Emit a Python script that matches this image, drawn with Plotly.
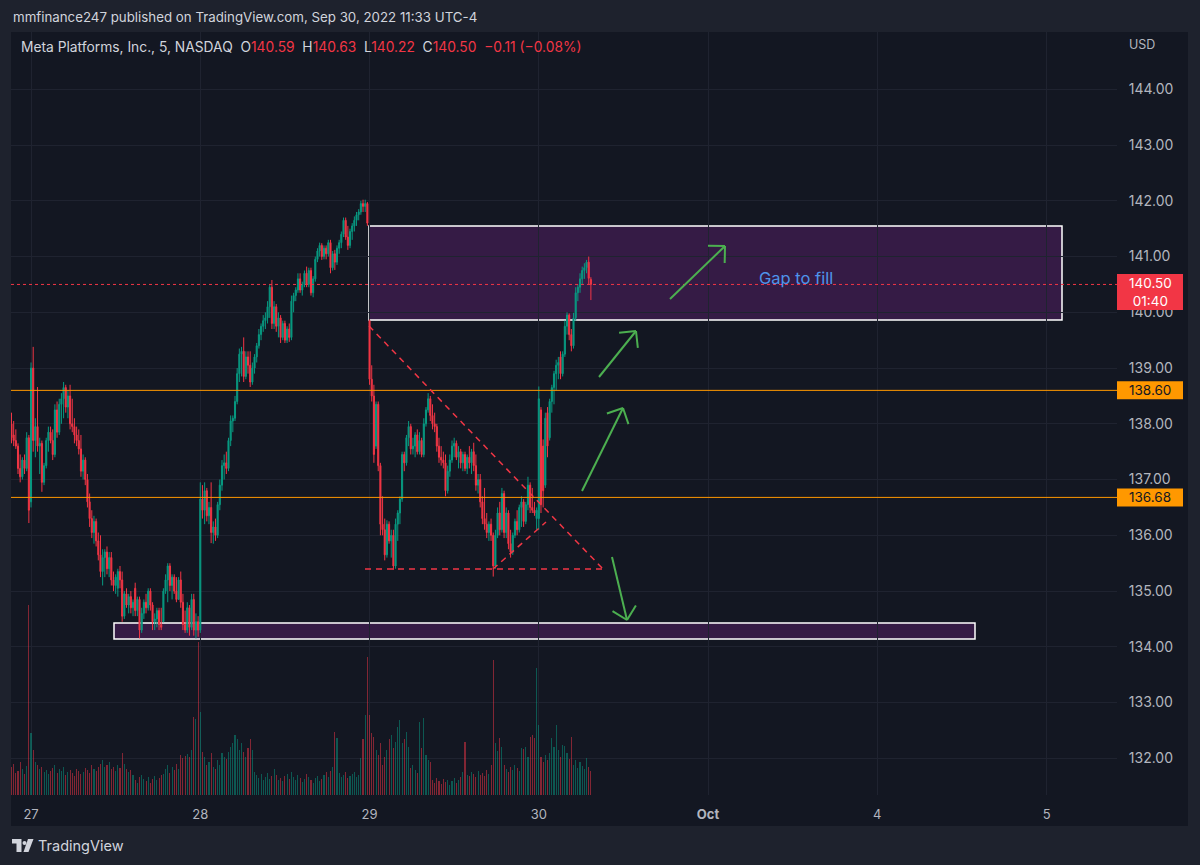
import math
import plotly.graph_objects as go

# ---------------- data ----------------
day_tick_idx = [9, 87, 165, 243, 321, 399, 477]
day_tick_text = ["27", "28", "29", "30", "<b>Oct</b>", "4", "5"]
price_ticks = [132, 133, 134, 135, 136, 137, 138, 139, 140, 141, 142, 143, 144]

opens = [
    138.0, 137.8, 137.7, 137.6, 137.2, 137.05, 137.35, 137.2, 137.75, 136.6,
    139.0, 137.7, 137.95, 137.6, 137.65, 136.95, 137.25, 137.7, 137.85, 137.7,
    137.45, 138.25, 137.85, 138.35, 138.45, 138.65, 138.3, 138.5, 138.0, 137.95,
    137.8, 137.7, 137.55, 137.15, 137.35, 137.0, 136.6, 136.3, 136.05, 136.25,
    135.9, 135.65, 135.35, 135.6, 135.7, 135.4, 135.6, 135.2, 135.1, 135.05,
    135.35, 135.2, 134.55, 134.95, 134.75, 134.9, 134.7, 135.05, 134.65, 134.85,
    134.3, 134.6, 134.8, 134.7, 135.0, 134.75, 134.45, 134.5, 134.65, 134.4,
    134.45, 135.0, 135.2, 135.45, 135.1, 135.25, 135.0, 134.85, 135.2, 134.8,
    134.4, 134.3, 134.7, 134.35, 134.85, 134.3, 134.45, 134.3, 136.65, 136.45,
    136.8, 136.35, 136.5, 136.05, 136.15, 136.0, 136.55, 136.9, 137.25, 137.3,
    137.2, 137.7, 138.05, 138.1, 138.4, 138.9, 139.25, 139.3, 138.85, 139.2,
    139.05, 138.75, 139.0, 139.2, 139.4, 139.6, 139.75, 139.85, 139.9, 140.1,
    140.45, 139.8, 140.1, 139.75, 139.9, 139.55, 139.8, 139.5, 139.7, 139.55,
    140.2, 140.3, 140.4, 140.6, 140.4, 140.5, 140.7, 140.5, 140.75, 140.35,
    140.6, 140.95, 141.1, 141.2, 141.0, 141.15, 141.05, 141.25, 140.8, 141.05,
    140.9, 141.15, 141.25, 141.4, 141.65, 141.35, 141.2, 141.45, 141.55, 141.65,
    141.75, 141.8, 141.95, 141.9, 141.95, 139.85, 138.8, 138.5, 137.6, 138.35,
    137.25, 136.2, 136.1, 135.65, 136.2, 135.9, 136.0, 135.45, 136.2, 136.4,
    136.65, 137.45, 137.3, 137.75, 137.95, 137.55, 137.6, 137.8, 137.5, 137.7,
    137.45, 138.0, 138.25, 138.45, 138.15, 138.0, 137.95, 137.6, 137.4, 137.35,
    137.3, 136.8, 137.15, 137.35, 137.6, 137.65, 137.4, 137.5, 137.3, 137.45,
    137.2, 137.4, 137.3, 137.5, 137.25, 136.9, 137.0, 136.6, 136.3, 136.2,
    136.05, 136.2, 136.0, 135.45, 136.0, 136.4, 136.1, 136.75, 136.05, 136.4,
    135.85, 135.7, 136.0, 136.25, 136.1, 136.5, 136.6, 136.25, 136.55, 136.9,
    136.5, 136.45, 136.3, 136.3, 138.25, 137.6, 136.9, 138.2, 137.75, 138.4,
    138.65, 138.9, 139.05, 139.2, 138.9, 139.25, 139.75, 139.95, 139.6, 139.4,
    139.9, 140.35, 140.45, 140.6, 140.75, 140.8, 140.9, 140.59,
]
highs = [
    138.2, 138.05, 137.9, 137.65, 137.45, 137.4, 137.45, 137.85, 137.8, 139.1,
    139.38, 138.1, 138.66, 137.75, 137.7, 137.3, 137.75, 137.95, 137.95, 137.9,
    138.35, 138.4, 138.45, 138.55, 138.75, 138.7, 138.6, 138.7, 138.45, 138.1,
    137.95, 137.9, 137.8, 137.45, 137.4, 137.1, 136.75, 136.45, 136.35, 136.3,
    136.05, 136.0, 135.75, 135.75, 135.8, 135.7, 135.7, 135.35, 135.3, 135.4,
    135.45, 135.35, 135.0, 135.05, 134.95, 135.0, 134.85, 135.15, 134.9, 134.9,
    134.7, 134.85, 134.95, 135.05, 135.05, 134.8, 134.6, 134.7, 134.7, 134.7,
    135.05, 135.3, 135.5, 135.5, 135.3, 135.3, 135.25, 135.25, 135.35, 134.95,
    134.65, 134.8, 134.75, 134.95, 134.95, 134.6, 134.55, 136.95, 136.9, 136.95,
    136.85, 136.6, 136.95, 136.25, 136.3, 136.6, 137.0, 137.35, 137.45, 137.5,
    137.75, 138.15, 138.15, 138.5, 139.0, 139.35, 139.38, 139.55, 139.3, 139.3,
    139.3, 139.1, 139.25, 139.45, 139.7, 139.8, 139.95, 140.0, 140.2, 140.5,
    140.58, 140.2, 140.15, 140.0, 139.95, 139.85, 139.85, 139.75, 139.8, 140.3,
    140.35, 140.45, 140.7, 140.7, 140.55, 140.75, 140.82, 140.8, 140.8, 140.65,
    141.0, 141.15, 141.25, 141.24, 141.2, 141.2, 141.3, 141.3, 141.1, 141.12,
    141.2, 141.3, 141.45, 141.7, 141.7, 141.55, 141.5, 141.6, 141.72, 141.8,
    141.85, 142.0, 142.02, 142.02, 141.98, 139.87, 139.05, 138.7, 138.4, 138.4,
    137.3, 136.7, 136.3, 136.27, 136.25, 136.1, 136.1, 136.3, 136.45, 136.7,
    137.5, 137.5, 137.8, 138.05, 138.0, 137.75, 137.85, 137.9, 137.85, 137.75,
    138.1, 138.3, 138.55, 138.5, 138.35, 138.2, 138.0, 137.75, 137.6, 137.5,
    137.45, 137.25, 137.45, 137.7, 137.75, 137.7, 137.6, 137.55, 137.5, 137.5,
    137.45, 137.6, 137.55, 137.66, 137.45, 137.1, 137.1, 136.7, 136.85, 136.4,
    136.25, 136.3, 136.05, 136.1, 136.5, 136.6, 136.85, 136.8, 136.5, 136.45,
    136.1, 136.05, 136.3, 136.45, 136.55, 136.7, 136.65, 136.6, 137.05, 136.95,
    136.85, 136.6, 136.5, 138.67, 138.3, 137.72, 138.2, 138.3, 138.45, 138.7,
    138.95, 139.15, 139.2, 139.3, 139.3, 139.85, 140.0, 139.98, 139.7, 139.99,
    140.45, 140.5, 140.7, 140.82, 140.88, 140.94, 141.0, 140.63,
]
lows = [
    137.65, 137.6, 137.55, 137.1, 136.95, 137.0, 137.1, 137.15, 136.22, 136.5,
    137.5, 137.4, 137.5, 137.1, 136.78, 136.9, 137.2, 137.5, 137.65, 137.35,
    137.4, 137.75, 137.8, 138.0, 138.1, 138.2, 138.1, 137.9, 137.85, 137.65,
    137.6, 137.45, 137.05, 137.0, 136.9, 136.5, 136.15, 135.95, 135.85, 135.8,
    135.55, 135.25, 135.1, 135.25, 135.3, 135.25, 135.1, 135.0, 134.95, 134.9,
    135.05, 134.45, 134.5, 134.7, 134.6, 134.6, 134.55, 134.55, 134.55, 134.15,
    134.25, 134.5, 134.6, 134.65, 134.65, 134.3, 134.3, 134.35, 134.3, 134.3,
    134.45, 134.95, 134.8, 135.0, 134.85, 134.95, 134.8, 134.85, 134.7, 134.3,
    134.25, 134.25, 134.2, 134.3, 134.2, 134.15, 134.18, 134.25, 136.3, 136.2,
    136.25, 136.2, 135.86, 135.85, 135.9, 135.95, 136.45, 136.8, 137.0, 137.1,
    137.15, 137.6, 137.85, 138.05, 138.35, 138.75, 138.85, 138.75, 138.8, 138.9,
    138.66, 138.7, 138.9, 139.1, 139.35, 139.5, 139.65, 139.7, 139.8, 139.9,
    139.7, 139.7, 139.65, 139.55, 139.45, 139.5, 139.45, 139.45, 139.47, 139.5,
    140.0, 140.2, 140.35, 140.35, 140.3, 140.45, 140.45, 140.45, 140.3, 140.27,
    140.55, 140.9, 141.0, 140.94, 140.95, 140.95, 141.0, 140.7, 140.75, 140.76,
    140.85, 141.05, 141.15, 141.35, 141.3, 141.12, 141.15, 141.3, 141.45, 141.55,
    141.65, 141.75, 141.8, 141.8, 141.55, 138.7, 138.4, 137.3, 137.55, 137.15,
    136.0, 136.0, 135.55, 135.6, 135.85, 135.6, 135.38, 135.4, 135.9, 136.2,
    136.6, 137.15, 137.25, 137.6, 137.45, 137.45, 137.4, 137.45, 137.45, 137.4,
    137.4, 137.95, 138.2, 138.05, 137.9, 137.85, 137.5, 137.3, 137.25, 137.2,
    136.7, 136.75, 137.05, 137.3, 137.4, 137.35, 137.2, 137.2, 137.15, 137.15,
    137.1, 137.2, 137.1, 137.15, 136.8, 136.75, 136.5, 136.2, 136.1, 135.95,
    135.9, 135.9, 135.26, 135.4, 135.95, 136.0, 136.05, 135.95, 135.95, 135.75,
    135.6, 135.65, 135.95, 136.0, 136.05, 136.15, 136.15, 136.2, 136.45, 136.4,
    136.4, 136.35, 136.1, 136.1, 136.4, 136.5, 136.85, 137.4, 137.7, 138.2,
    138.35, 138.6, 138.8, 138.8, 138.85, 139.2, 139.6, 139.5, 139.3, 139.35,
    139.85, 140.2, 140.35, 140.5, 140.6, 140.7, 140.5, 140.22,
]
closes = [
    137.75, 137.7, 137.6, 137.2, 137.05, 137.35, 137.2, 137.75, 136.45, 139.0,
    137.7, 137.95, 137.6, 137.65, 136.95, 137.25, 137.7, 137.85, 137.7, 137.45,
    138.25, 137.85, 138.35, 138.45, 138.65, 138.3, 138.5, 138.0, 137.95, 137.8,
    137.7, 137.55, 137.15, 137.35, 137.0, 136.6, 136.3, 136.05, 136.25, 135.9,
    135.65, 135.35, 135.6, 135.7, 135.4, 135.6, 135.2, 135.1, 135.25, 135.35,
    135.2, 134.55, 134.95, 134.75, 134.9, 134.7, 134.8, 134.65, 134.85, 134.3,
    134.6, 134.8, 134.7, 135.0, 134.75, 134.45, 134.5, 134.65, 134.4, 134.35,
    135.0, 135.2, 135.45, 135.1, 135.25, 135.0, 134.85, 135.2, 134.8, 134.4,
    134.3, 134.7, 134.35, 134.85, 134.3, 134.45, 134.3, 136.65, 136.45, 136.8,
    136.35, 136.5, 136.05, 136.15, 136.0, 136.55, 136.9, 137.25, 137.3, 137.2,
    137.7, 138.05, 138.1, 138.4, 138.9, 139.25, 139.3, 138.85, 139.2, 139.05,
    138.75, 139.0, 139.2, 139.4, 139.6, 139.75, 139.85, 139.9, 140.1, 140.45,
    139.8, 140.1, 139.75, 139.9, 139.55, 139.8, 139.5, 139.7, 139.55, 140.2,
    140.3, 140.4, 140.6, 140.4, 140.5, 140.7, 140.5, 140.75, 140.35, 140.6,
    140.95, 141.1, 141.2, 141.0, 141.15, 141.05, 141.25, 140.8, 141.05, 140.9,
    141.15, 141.25, 141.4, 141.65, 141.35, 141.2, 141.45, 141.55, 141.65, 141.75,
    141.8, 141.95, 141.9, 141.95, 141.6, 138.8, 138.5, 137.45, 138.35, 137.25,
    136.2, 136.1, 135.65, 136.2, 135.9, 136.0, 135.45, 136.2, 136.4, 136.65,
    137.45, 137.3, 137.75, 137.95, 137.55, 137.6, 137.8, 137.5, 137.7, 137.45,
    138.0, 138.25, 138.45, 138.15, 138.0, 137.95, 137.6, 137.4, 137.35, 137.3,
    136.8, 137.15, 137.35, 137.6, 137.65, 137.4, 137.5, 137.3, 137.45, 137.2,
    137.4, 137.3, 137.5, 137.25, 136.9, 137.0, 136.6, 136.3, 136.2, 136.05,
    136.2, 136.0, 135.45, 136.0, 136.4, 136.1, 136.75, 136.05, 136.4, 135.85,
    135.7, 136.0, 136.25, 136.1, 136.5, 136.6, 136.25, 136.55, 136.9, 136.5,
    136.45, 136.4, 136.45, 138.45, 136.55, 136.8, 138.1, 137.6, 138.4, 138.65,
    138.9, 139.05, 139.1, 138.9, 139.25, 139.75, 139.95, 139.6, 139.4, 139.9,
    140.35, 140.45, 140.6, 140.75, 140.8, 140.9, 140.61, 140.50,
]
volumes = [
    280, 310, 220, 240, 330, 260, 210, 290, 1900,
    620, 450, 330, 300, 260, 280, 230, 250, 210, 240, 270, 300,
    220, 260, 240, 280, 200, 230, 250, 220, 190, 260, 240, 210, 230, 270, 250, 220, 300, 260, 240, 280,
    310, 350, 280, 300, 330, 260, 280, 240, 300, 270, 420, 310, 260, 230, 250, 200,
    150, 120, 180, 200, 160, 140, 180, 120, 160, 190, 150, 170, 200, 210,
    260, 300, 220, 280, 250, 310, 260, 400, 370, 390, 410, 380, 450, 780, 760, 1530,
    830, 430, 380, 300, 330, 420, 280, 260, 350, 300, 420, 380, 360, 430,
    480, 520, 600, 560, 450, 520, 430, 380, 470, 560, 450,
    230, 200, 170, 210, 150, 180, 220, 160, 190, 260, 200, 150, 170, 140, 190, 210, 160, 230,
    180, 150, 200, 170, 130, 160, 210, 180, 150, 120, 170, 190, 140, 160, 200, 230, 180,
    240, 280, 630, 570, 220, 180, 200, 230, 170, 190, 210, 230, 180, 200,
    370, 560, 800, 1380,
    800, 620, 580, 450, 400, 520, 300, 380, 450, 560,
    600, 470, 530, 680, 750, 520, 560, 630, 480, 270, 300, 250, 220,
    730, 470, 770, 400, 350, 330,
    150, 120, 170, 140, 110, 160, 130, 150, 100, 140, 170, 120, 150,
    180, 230, 530, 200, 190, 230, 210, 180, 240, 200, 220, 190, 250, 210, 300,
    1350,
    520, 440, 570, 480, 300, 260, 230, 280, 250, 300, 270, 240, 470, 460, 480, 380, 580, 600, 570,
    1270,
    700, 380, 330, 400, 350, 420, 570, 480, 700, 450, 380, 500, 490, 420, 360, 580, 300, 350,
    270, 330, 290, 260, 370, 280, 240,
]
level_upper = 138.60
level_lower = 136.68

n = len(closes)
assert len(opens) == n and len(highs) == n and len(lows) == n and len(volumes) == n, (
    len(opens), len(highs), len(lows), len(closes), len(volumes))
idx = list(range(n))

# ---------------- geometry / style ----------------
W, H = 1200, 865
PL, PR, PT, PB = 11, 1117, 32, 795
XMIN, XMAX = -0.23, 509.45
YMIN, YMAX = 131.342, 145.028
PXX = (PR - PL) / (XMAX - XMIN)
PXY = (PB - PT) / (YMAX - YMIN)

BG_OUT = "#1e222d"
BG = "#131722"
GRID = "#1f2330"
TXT = "#b2b5be"
UP = "#089981"
DN = "#f23645"
FONT = "Inter, Roboto, 'Noto Sans', sans-serif"


def ax(px):
    return (px - PL) / (PR - PL)


def ay(py):
    return (PB - py) / (PB - PT)


def dx(px):
    return XMIN + (px - PL) / PXX


def dy(py):
    return YMAX - (py - PT) / PXY


fig = go.Figure()

vol_colors = ["rgba(8,153,129,0.5)" if c >= o else "rgba(242,54,69,0.5)" for o, c in zip(opens, closes)]
fig.add_trace(go.Bar(x=idx, y=volumes, marker=dict(color=vol_colors, line=dict(width=0)),
                     width=0.5, yaxis="y2", showlegend=False, hoverinfo="skip"))
fig.add_trace(go.Candlestick(
    x=idx, open=opens, high=highs, low=lows, close=closes,
    increasing=dict(line=dict(color=UP, width=1), fillcolor=UP),
    decreasing=dict(line=dict(color=DN, width=1), fillcolor=DN),
    whiskerwidth=0, showlegend=False, hoverinfo="skip"))

shapes = []
# pane background
shapes.append(dict(type="rect", xref="paper", yref="paper", x0=ax(11), x1=ax(1188), y0=ay(826), y1=ay(32),
                   fillcolor=BG, line=dict(width=0), layer="below"))

# zones
shapes.append(dict(type="rect", xref="x", yref="y", x0=dx(369), x1=dx(1062), y0=dy(320), y1=dy(226),
                   fillcolor="rgba(156,39,176,0.25)", line=dict(color="#ffffff", width=1.5), layer="below"))
shapes.append(dict(type="rect", xref="x", yref="y", x0=dx(114), x1=dx(975), y0=dy(639), y1=dy(623),
                   fillcolor="rgba(156,39,176,0.25)", line=dict(color="#ffffff", width=1.5), layer="below"))

# horizontal levels
for lv in (level_upper, level_lower):
    shapes.append(dict(type="line", xref="paper", yref="y", x0=0, x1=1, y0=lv, y1=lv,
                       line=dict(color="#ff9800", width=1)))
last = closes[-1]
shapes.append(dict(type="line", xref="paper", yref="y", x0=0, x1=1, y0=last, y1=last,
                   line=dict(color=DN, width=1, dash="dot")))

# triangle pattern (dashed)
tri = [((dx(369), dy(326)), (dx(603), dy(569))),
       ((dx(365), dy(569)), (dx(603), dy(569))),
       ((dx(493), dy(569)), (dx(546), dy(522)))]
for (x0, y0), (x1, y1) in tri:
    shapes.append(dict(type="line", xref="x", yref="y", x0=x0, y0=y0, x1=x1, y1=y1,
                       line=dict(color="#f23645", width=1.5, dash="6px,5px")))

# green arrows (start, tip) in data coords
arrows = [((dx(670), dy(299)), (dx(725), dy(246))),
          ((dx(599), dy(377)), (dx(636), dy(331))),
          ((dx(582), dy(491)), (dx(623), dy(408))),
          ((dx(612), dy(557)), (dx(627), dy(620)))]
GREEN = "#4caf50"
for (x0, y0), (x1, y1) in arrows:
    shapes.append(dict(type="line", xref="x", yref="y", x0=x0, y0=y0, x1=x1, y1=y1,
                       line=dict(color=GREEN, width=2)))
    vx = (x1 - x0) * PXX
    vy = -(y1 - y0) * PXY
    ln = math.hypot(vx, vy)
    bx, by = -vx / ln, -vy / ln
    for ang in (math.radians(45), math.radians(-45)):
        wx = bx * math.cos(ang) - by * math.sin(ang)
        wy = bx * math.sin(ang) + by * math.cos(ang)
        L = 17
        shapes.append(dict(type="line", xref="x", yref="y", x0=x1, y0=y1,
                           x1=x1 + wx * L / PXX, y1=y1 - wy * L / PXY,
                           line=dict(color=GREEN, width=2)))

# price labels on the axis
shapes.append(dict(type="rect", xref="paper", yref="paper", x0=ax(1117), x1=ax(1183), y0=ay(310), y1=ay(274),
                   fillcolor=DN, line=dict(width=0)))
for lv in (level_upper, level_lower):
    shapes.append(dict(type="rect", xref="paper", yref="y", x0=ax(1117), x1=ax(1183),
                       y0=lv - 9 / PXY, y1=lv + 9 / PXY, fillcolor="#ff9800", line=dict(width=0)))


# TradingView logo (footer)
def ppath(points):
    s = "M " + " L ".join(f"{ax(x):.5f},{ay(y):.5f}" for x, y in points) + " Z"
    return s


shapes.append(dict(type="path", xref="paper", yref="paper",
                   path=ppath([(12, 839), (21.5, 839), (21.5, 852), (16.5, 852), (16.5, 843.5), (12, 843.5)]),
                   fillcolor="#d1d4dc", line=dict(width=0)))
shapes.append(dict(type="circle", xref="paper", yref="paper", x0=ax(22.5), x1=ax(26.5), y0=ay(845), y1=ay(841),
                   fillcolor="#d1d4dc", line=dict(width=0)))
shapes.append(dict(type="path", xref="paper", yref="paper",
                   path=ppath([(28, 839), (33.5, 839), (28.5, 852), (23.5, 852)]),
                   fillcolor="#d1d4dc", line=dict(width=0)))

annotations = []
annotations.append(dict(xref="paper", yref="paper", x=ax(11), y=ay(17), xanchor="left", yanchor="middle",
                        text="mmfinance247 published on TradingView.com, Sep 30, 2022 11:33 UTC-4",
                        showarrow=False, font=dict(size=13.3, color="#d1d4dc", family=FONT)))

chg = closes[-1] - closes[-2]
pct = chg / closes[-2] * 100


def fmt_signed(v, d=2):
    s = f"{abs(v):.{d}f}"
    return ("\u2212" if v < 0 else "+") + s


R = f'<span style="color:{DN}">'
SP = "\u00a0\u00a0"
legend_txt = ("Meta Platforms, Inc., 5, NASDAQ" + SP +
              f"O{R}{opens[-1]:.2f}</span>{SP}H{R}{highs[-1]:.2f}</span>{SP}"
              f"L{R}{lows[-1]:.2f}</span>{SP}C{R}{closes[-1]:.2f}</span>{SP}"
              f"{R}{fmt_signed(chg)} ({fmt_signed(pct)}%)</span>")
annotations.append(dict(xref="paper", yref="paper", x=ax(19), y=ay(47), xanchor="left", yanchor="middle",
                        text=legend_txt, showarrow=False, font=dict(size=13.8, color="#d1d4dc", family=FONT)))
annotations.append(dict(xref="paper", yref="paper", x=ax(1127), y=ay(45), xanchor="left", yanchor="middle",
                        text="USD", showarrow=False, font=dict(size=12.5, color=TXT, family=FONT)))
annotations.append(dict(xref="paper", yref="paper", x=ax(1150), y=ay(292), xanchor="center", yanchor="middle",
                        text=f"{last:.2f}<br>01:40", showarrow=False,
                        font=dict(size=13.5, color="#ffffff", family=FONT)))
for lv in (level_upper, level_lower):
    annotations.append(dict(xref="paper", yref="y", x=ax(1150), y=lv, xanchor="center", yanchor="middle",
                            text=f"{lv:.2f}", showarrow=False, font=dict(size=13.5, color="#131722", family=FONT)))
annotations.append(dict(xref="x", yref="y", x=dx(796), y=dy(278), xanchor="center", yanchor="middle",
                        text="Gap to fill", showarrow=False, font=dict(size=16.5, color="#4f94ea", family=FONT)))
annotations.append(dict(xref="paper", yref="paper", x=ax(36), y=ay(846), xanchor="left", yanchor="middle",
                        text="TradingView", showarrow=False, font=dict(size=14.5, color="#d1d4dc", family=FONT)))

fig.update_layout(
    width=W, height=H,
    margin=dict(l=PL, r=W - PR, t=PT, b=H - PB),
    paper_bgcolor=BG_OUT, plot_bgcolor=BG,
    showlegend=False, hovermode=False, dragmode=False,
    bargap=0,
    font=dict(family=FONT, color=TXT, size=13),
    xaxis=dict(range=[XMIN, XMAX], tickmode="array", tickvals=day_tick_idx, ticktext=day_tick_text,
               showgrid=True, gridcolor=GRID, gridwidth=1, zeroline=False, showline=False,
               ticks="outside", ticklen=7, tickcolor="rgba(0,0,0,0)",
               tickfont=dict(size=13, color=TXT, family=FONT), rangeslider=dict(visible=False),
               fixedrange=True),
    yaxis=dict(range=[YMIN, YMAX], side="right", tickmode="array", tickvals=price_ticks,
               ticktext=[f"{p:.2f}" for p in price_ticks],
               showgrid=True, gridcolor=GRID, gridwidth=1, zeroline=False, showline=False,
               ticks="outside", ticklen=8, tickcolor="rgba(0,0,0,0)",
               tickfont=dict(size=14, color=TXT, family=FONT), fixedrange=True),
    yaxis2=dict(range=[0, (PB - PT) * 10], overlaying="y", visible=False, fixedrange=True),
    shapes=shapes,
    annotations=annotations,
)

fig.write_html("out.html", config={"displayModeBar": False})
